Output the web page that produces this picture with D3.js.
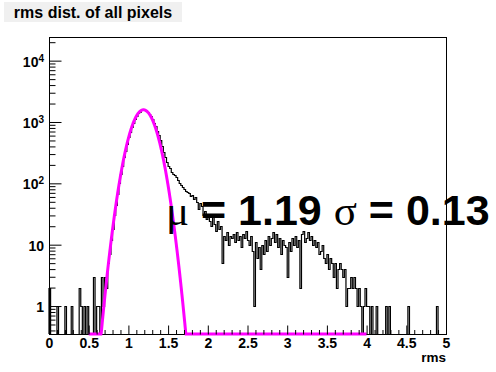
<!DOCTYPE html>
<html>
<head>
<meta charset="utf-8">
<script src="https://cdn.jsdelivr.net/npm/d3@7"></script>
<style>
  html, body { margin: 0; padding: 0; background: #fff; }
  svg { display: block; }
  text { font-family: "Liberation Sans", Arial, Helvetica, sans-serif; font-weight: bold; }
</style>
</head>
<body>
<div id="chart"></div>
<script>
// histogram binning (0.02 wide bins from 0 to 5)
const xMin = 0;
const binWidth = 0.02;
const counts = [
  2, 0, 0, 0, 0, 1, 0, 0, 0, 0,
  1, 0, 0, 0, 1, 0, 0, 0, 0, 2,
  1, 0, 1, 0, 1, 0, 0, 0, 3, 0,
  1, 1, 0, 3, 1, 3, 2, 5, 7, 12,
  18, 30, 45, 68, 100, 140, 195, 265, 340, 440,
  560, 690, 830, 980, 1130, 1270, 1390, 1480, 1560, 1600,
  1580, 1510, 1440, 1350, 1230, 1110, 980, 850, 720, 610,
  500, 410, 330, 270, 225, 195, 175, 155, 140, 135,
  125, 112, 100, 95, 88, 82, 76, 72, 70, 62,
  65, 55, 60, 50, 38, 48, 42, 30, 35, 26,
  32, 24, 20, 28, 22, 17, 24, 18, 20, 5,
  14, 12, 16, 10, 14, 13, 15, 11, 16, 12,
  14, 9, 15, 13, 17, 12, 10, 14, 8, 1,
  11, 6, 9, 4, 10, 7, 12, 8, 14, 10,
  13, 16, 11, 15, 9, 13, 7, 12, 10, 9,
  3, 11, 8, 13, 10, 14, 9, 12, 2, 15,
  17, 11, 13, 16, 12, 14, 10, 12, 9, 11,
  7, 8, 10, 6, 5, 7, 4, 6, 5, 3,
  5, 2, 4, 5, 4, 3, 4, 1, 2, 2,
  3, 2, 3, 2, 1, 2, 1, 0, 1, 2,
  1, 1, 0, 1, 0, 0, 1, 0, 0, 0,
  0, 0, 1, 0, 1, 0, 0, 0, 0, 0,
  0, 0, 0, 0, 0, 0, 1, 0, 0, 0,
  0, 0, 0, 0, 0, 0, 0, 0, 0, 0,
  0, 0, 0, 0, 1, 0, 0, 0, 0, 0
];

// gaussian fit parameters
const fitConst = 1580;
const fitMean = 1.19;
const fitSigma = 0.13;
const fitRange = [0.5, 4.0];

const titleText = 'rms dist. of all pixels';
const xTitle = 'rms';
const xTicks = [0, 0.5, 1, 1.5, 2, 2.5, 3, 3.5, 4, 4.5, 5];
const xTickLabels = ['0', '0.5', '1', '1.5', '2', '2.5', '3', '3.5', '4', '4.5', '5'];
const yTicks = [1, 10, 100, 1000, 10000];
const yTickBases = ['1', '10', '10', '10', '10'];
const yTickExps = ['', '', '2', '3', '4'];

const W = 496, H = 372;
const frame = { left: 49, right: 446, top: 37, bottom: 334 };

const svg = d3.select('#chart').append('svg')
  .attr('width', W)
  .attr('height', H);

const x = d3.scaleLinear().domain([0, 5]).range([frame.left, frame.right]);
const y = d3.scaleLog().domain([0.35, 24300]).range([frame.bottom, frame.top]);
const yMin = y.domain()[0];

// title box
svg.append('rect')
  .attr('x', 4).attr('y', 2)
  .attr('width', 178).attr('height', 20)
  .attr('fill', '#f0f0f0');
svg.append('text')
  .attr('x', 93).attr('y', 17.5)
  .attr('text-anchor', 'middle')
  .attr('font-size', '16px')
  .text(titleText);

// frame
svg.append('rect')
  .attr('x', frame.left + 0.5).attr('y', frame.top + 0.5)
  .attr('width', frame.right - frame.left).attr('height', frame.bottom - frame.top)
  .attr('fill', 'none')
  .attr('stroke', '#000');

// histogram as a step line; empty bins drop to the frame bottom
const yv = v => Math.round(y(Math.max(v, yMin))) + 0.5;
let d = `M${x(xMin)},${frame.bottom}`;
counts.forEach((c, i) => {
  const x0 = x(xMin + i * binWidth), x1 = x(xMin + (i + 1) * binWidth);
  d += `L${x0},${yv(c)}L${x1},${yv(c)}`;
});
d += `L${x(xMin + counts.length * binWidth)},${frame.bottom}`;
svg.append('path')
  .attr('d', d)
  .attr('fill', 'none')
  .attr('stroke', '#000')
  .attr('stroke-width', 1.2);

// fit function, clamped to the frame minimum like ROOT does
const gaus = t => fitConst * Math.exp(-0.5 * Math.pow((t - fitMean) / fitSigma, 2));
const fitPts = d3.range(fitRange[0], fitRange[1] + 1e-9, 0.0025);
svg.append('path')
  .datum(fitPts)
  .attr('d', d3.line().x(t => x(t)).y(t => y(Math.max(gaus(t), yMin))))
  .attr('fill', 'none')
  .attr('stroke', '#ff00ff')
  .attr('stroke-width', 3);

// x axis ticks (inside the frame)
const xMinor = d3.range(0, 5.0001, 0.1).filter(t => Math.abs(t * 2 - Math.round(t * 2)) > 1e-6);
const xAxis = svg.append('g').attr('transform', `translate(0,${frame.bottom + 0.5})`);
xAxis.call(d3.axisBottom(x).tickValues(xTicks).tickSize(-9).tickPadding(4)
  .tickFormat((t, i) => xTickLabels[i]));
xAxis.append('g').call(d3.axisBottom(x).tickValues(xMinor).tickSize(-4.5).tickFormat(''));
xAxis.selectAll('.domain').remove();
xAxis.selectAll('text')
  .attr('font-size', '14px')
  .attr('fill', '#000')
  .style('font-family', '"Liberation Sans", Arial, sans-serif')
  .style('font-weight', 'bold');
xAxis.selectAll('line').attr('stroke', '#000');

svg.append('text')
  .attr('x', frame.right).attr('y', 362)
  .attr('text-anchor', 'end')
  .attr('font-size', '13.5px')
  .text(xTitle);

// y axis ticks (log, inside the frame)
const yMinor = [];
for (let k = -1; k <= 4; k++) {
  for (let m = 2; m <= 9; m++) {
    const v = m * Math.pow(10, k);
    if (v >= yMin && v <= y.domain()[1]) yMinor.push(v);
  }
}
const yAxis = svg.append('g').attr('transform', `translate(${frame.left + 0.5},0)`);
yAxis.call(d3.axisLeft(y).tickValues(yTicks).tickSize(-12).tickFormat(''));
yAxis.append('g').call(d3.axisLeft(y).tickValues(yMinor).tickSize(-6).tickFormat(''));
yAxis.selectAll('.domain').remove();
yAxis.selectAll('line').attr('stroke', '#000');

yTicks.forEach((v, i) => {
  const t = svg.append('text')
    .attr('x', 44).attr('y', y(v) + 6)
    .attr('text-anchor', 'end')
    .attr('font-size', '14px');
  t.append('tspan').text(yTickBases[i]);
  if (yTickExps[i]) {
    t.append('tspan').attr('dy', -5).attr('font-size', '10px').text(yTickExps[i]);
  }
});

// fit result label
const lbl = svg.append('text')
  .attr('x', 166).attr('y', 225)
  .attr('font-size', '43px');
lbl.append('tspan').style('font-family', '"Liberation Serif", "Times New Roman", serif')
  .style('font-weight', 'normal').text('\u03bc');
lbl.append('tspan').text(` = ${fitMean.toFixed(2)} `);
lbl.append('tspan').style('font-family', '"Liberation Serif", "Times New Roman", serif')
  .style('font-weight', 'normal').text('\u03c3');
lbl.append('tspan').text(` = ${fitSigma.toFixed(2)}`);
</script>
</body>
</html>
